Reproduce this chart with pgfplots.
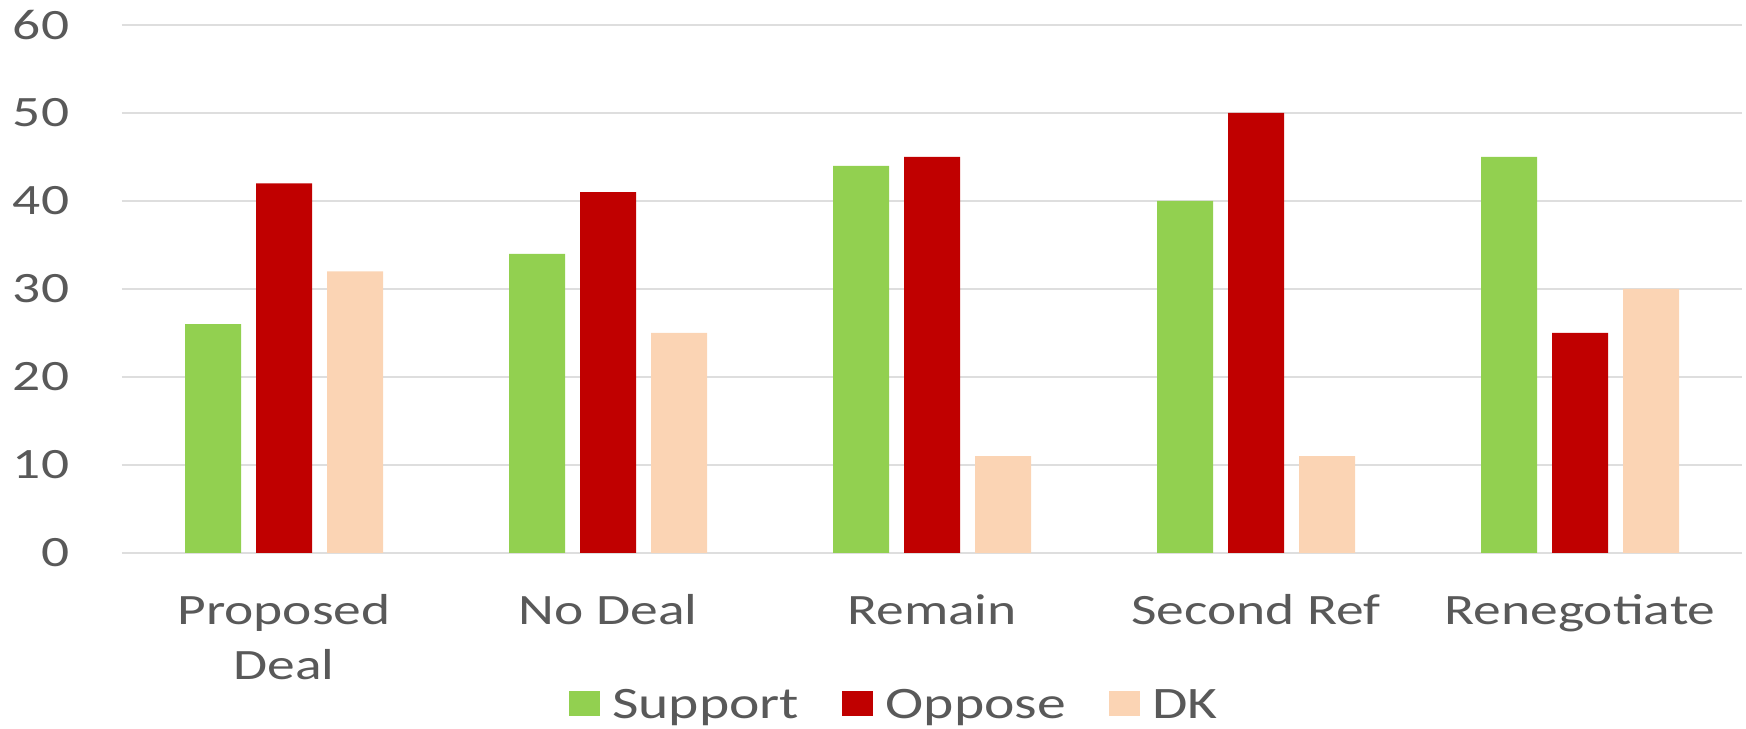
\documentclass[border=0pt]{standalone}
\usepackage{fontspec}
\setmainfont{Carlito}[FakeStretch=1.28]
\usepackage{pgfplots}
\pgfplotsset{compat=1.18}

\definecolor{supp}{HTML}{92D050}
\definecolor{opp}{HTML}{C00000}
\definecolor{dk}{HTML}{FBD4B4}
\definecolor{txt}{HTML}{595959}
\definecolor{gridgray}{HTML}{DEDEDE}

\begin{document}
\begin{tikzpicture}
\begin{axis}[
    name=ax,
    scale only axis,
    width=486pt, height=158.4pt,
    ybar, bar width=16.8pt,
    xmin=-0.5, xmax=4.5,
    ymin=0, ymax=60,
    ytick={0,10,...,60},
    xtick={0,1,2,3,4},
    xticklabels={Proposed\\Deal, No Deal, Remain, Second Ref, Renegotiate},
    axis x line*=bottom,
    axis y line*=left,
    y axis line style={draw=none},
    x axis line style={gridgray, line width=0.8pt},
    xmajorgrids=false,
    ymajorgrids=true,
    grid style={gridgray, line width=0.8pt},
    major tick length=0pt,
    tick style={draw=none},
    tick label style={text=txt, font=\fontsize{13}{16.5}\selectfont},
    /pgf/number format/assume math mode=true,
    yticklabel style={anchor=east, xshift=-12.3pt},
    xticklabel style={align=center, anchor=north, yshift=-9pt},
    legend columns=3,
    legend style={draw=none, inner sep=0pt, at={(0.477,-0.250)}, anchor=north,
        font=\fontsize{13.5}{15}\selectfont, text=txt,
        nodes={inner sep=1pt},
        /tikz/every odd column/.append style={column sep=2.8pt},
        /tikz/every even column/.append style={column sep=11.8pt}},
    legend image code/.code={\fill[#1] (0pt,-3.1pt) rectangle (9.3pt,4.4pt);},
]
\addplot[fill=supp, draw=none, bar shift=-21.3pt] coordinates {(0,26) (1,34) (2,44) (3,40) (4,45)};
\addlegendentry{Support}
\addplot[fill=opp, draw=none, bar shift=0pt] coordinates {(0,42) (1,41) (2,45) (3,50) (4,25)};
\addlegendentry{Oppose}
\addplot[fill=dk, draw=none, bar shift=21.3pt] coordinates {(0,32) (1,25) (2,11) (3,11) (4,30)};
\addlegendentry{DK}
\end{axis}
\pgfresetboundingbox
\path[use as bounding box] (ax.south west) ++(-36.6pt,-52.8pt) rectangle ++(523.8pt,218.7pt);
\end{tikzpicture}
\end{document}
